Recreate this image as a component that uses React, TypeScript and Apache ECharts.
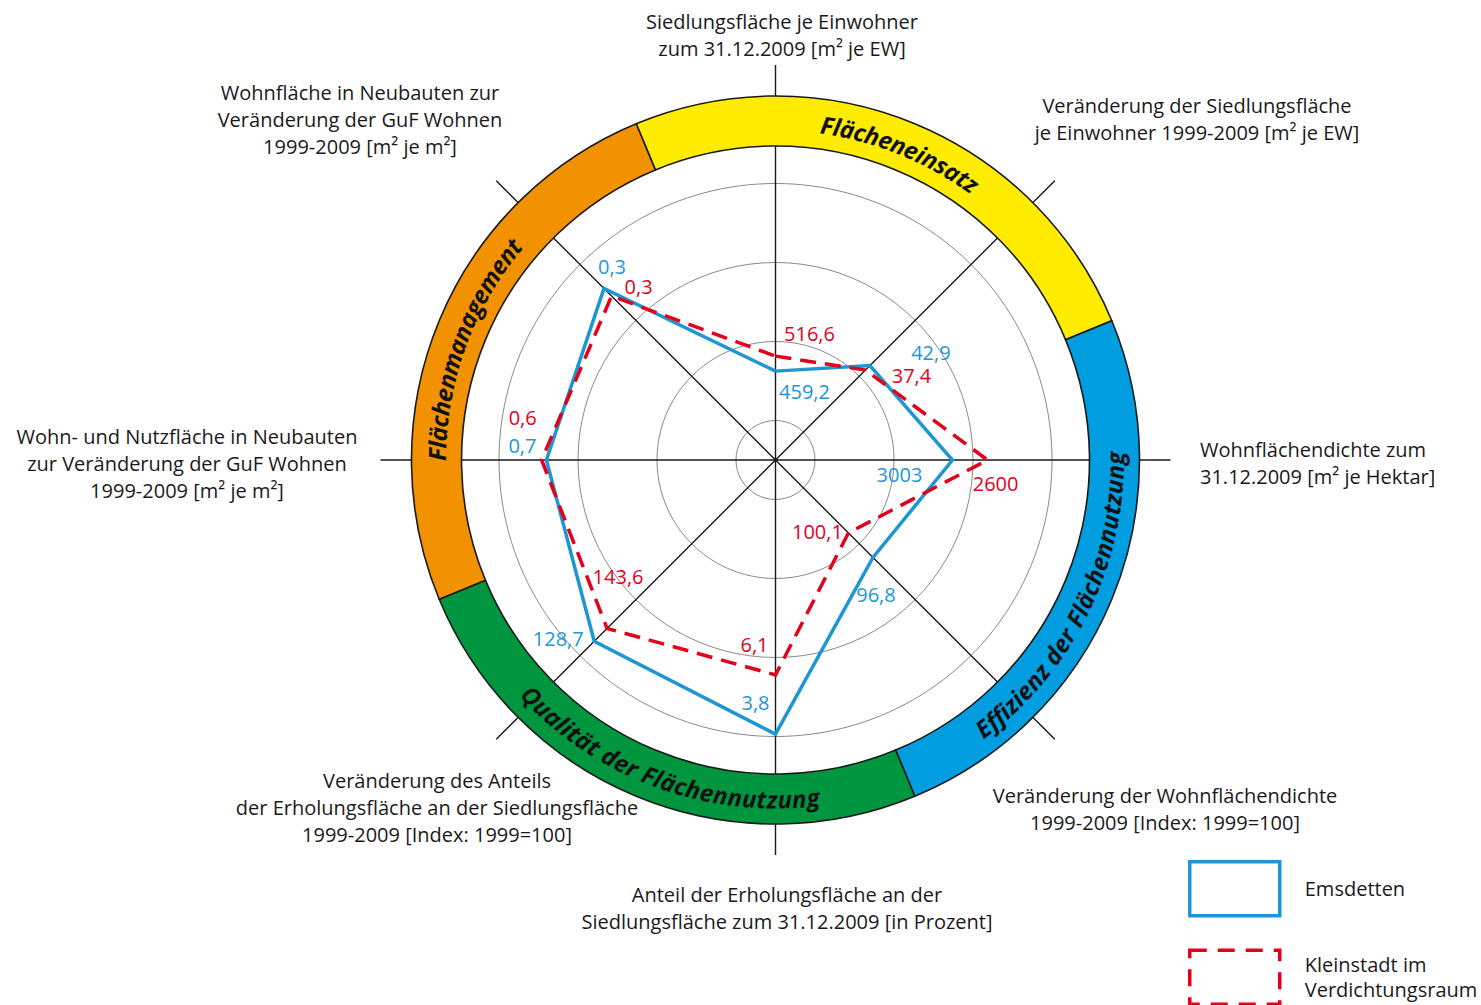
import React, { useEffect, useRef } from 'react';
import * as echarts from 'echarts';

// ---------- data ----------
const axisTitles = [
  'Siedlungsfläche je Einwohner\nzum 31.12.2009 [m² je EW]',
  'Veränderung der Siedlungsfläche\nje Einwohner 1999-2009 [m² je EW]',
  'Wohnflächendichte zum\n31.12.2009 [m² je Hektar]',
  'Veränderung der Wohnflächendichte\n1999-2009 [Index: 1999=100]',
  'Anteil der Erholungsfläche an der\nSiedlungsfläche zum 31.12.2009 [in Prozent]',
  'Veränderung des Anteils\nder Erholungsfläche an der Siedlungsfläche\n1999-2009 [Index: 1999=100]',
  'Wohn- und Nutzfläche in Neubauten\nzur Veränderung der GuF Wohnen\n1999-2009 [m² je m²]',
  'Wohnfläche in Neubauten zur\nVeränderung der GuF Wohnen\n1999-2009 [m² je m²]',
];
const seriesNames = ['Emsdetten', 'Kleinstadt im Verdichtungsraum'];
const emsValues = [459.2, 42.9, 3003, 96.8, 3.8, 128.7, 0.7, 0.3];
const kleinValues = [516.6, 37.4, 2600, 100.1, 6.1, 143.6, 0.6, 0.3];
// radial position of each vertex (grid rings at 1, 3, 5, 7)
const emsScores = [2.25, 3.38, 4.48, 3.49, 6.94, 6.49, 5.8, 6.14];
const kleinScores = [2.63, 3.22, 5.37, 2.61, 5.44, 6.03, 5.92, 5.87];
const fieldNames = ['Flächeneinsatz', 'Effizienz der Flächennutzung', 'Qualität der Flächennutzung', 'Flächenmanagement'];
const fieldShares = [1, 1, 1, 1];

// ---------- layout / style ----------
const CX = 775.5;
const CY = 460;
const R = 395;
const BLUE = '#1e96d4';
const RED = '#e3001b';
const TEXT = '#1a1a1a';
const FONT = '"Open Sans", "Noto Sans", sans-serif';
const fieldColors = ['#ffec00', '#009ee0', '#009640', '#f39200'];
const ringText = [
  { mid: 22, cw: true },
  { mid: 116, cw: false },
  { mid: 200, cw: false },
  { mid: 290, cw: true },
];
const titlePos: [number, number, string][] = [
  [782, 34.5, 'center'],
  [1197, 118.5, 'center'],
  [1200, 462.5, 'left'],
  [1165, 808.5, 'center'],
  [787, 907.5, 'center'],
  [437, 807.5, 'center'],
  [187, 463, 'center'],
  [360, 119, 'center'],
];
const emsOffsets = [[29, 20], [61, -13], [-53, 14], [3, 37], [-20, -32], [-36, -3], [-24, -15], [8, -22]];
const kleinOffsets = [[34, -23], [46, 5], [8, 23], [-31, -1], [-21, -30], [11, -52], [-19, -43], [27, -10]];

const fmt = (v: number) => String(v).replace('.', ',');

function buildData(scores: number[], values: number[], offsets: number[][]) {
  const pts: any[] = scores.map((s, i) => ({
    value: [s, i * (360 / scores.length)],
    label: { offset: offsets[i], formatter: fmt(values[i]) },
  }));
  pts.push({ value: [scores[0], 360], label: { show: false } });
  return pts;
}

function ringChars(): any[] {
  const canvas = document.createElement('canvas');
  const ctx = canvas.getContext('2d') as CanvasRenderingContext2D;
  const fontSize = 24;
  ctx.font = `italic bold ${fontSize}px "Open Sans"`;
  const r = 339;
  const out: any[] = [];
  fieldNames.forEach((text, k) => {
    const { mid, cw } = ringText[k];
    const total = ctx.measureText(text).width;
    const midRad = (mid * Math.PI) / 180;
    const start = cw ? midRad - total / r / 2 : midRad + total / r / 2;
    for (let i = 0; i < text.length; i++) {
      const before = ctx.measureText(text.slice(0, i)).width;
      const after = ctx.measureText(text.slice(0, i + 1)).width;
      const c = (before + after) / 2;
      const th = cw ? start + c / r : start - c / r;
      out.push({
        type: 'text',
        x: CX + r * Math.sin(th),
        y: CY - r * Math.cos(th),
        rotation: cw ? -th : Math.PI - th,
        z: 20,
        silent: true,
        style: {
          text: text[i],
          fill: '#111',
          fontSize,
          fontWeight: 'bold',
          fontStyle: 'italic',
          fontFamily: '"Open Sans"',
          align: 'center',
          verticalAlign: 'middle',
        },
      });
    }
  });
  return out;
}

export default function App() {
  const ref = useRef<HTMLDivElement>(null);
  useEffect(() => {
    if (!ref.current) return;
    const chart = echarts.init(ref.current, undefined, { renderer: 'svg' });
    const gridColors = ['rgba(0,0,0,0)', '#8a8a8a', 'rgba(0,0,0,0)', '#8a8a8a', 'rgba(0,0,0,0)', '#8a8a8a', 'rgba(0,0,0,0)', '#8a8a8a', 'rgba(0,0,0,0)', 'rgba(0,0,0,0)', 'rgba(0,0,0,0)'];
    const titles = axisTitles.map((t, i) => ({
      type: 'text',
      x: titlePos[i][0],
      y: titlePos[i][1],
      silent: true,
      style: {
        text: t,
        fill: TEXT,
        fontSize: 20,
        fontFamily: FONT,
        lineHeight: 27,
        align: titlePos[i][2],
        verticalAlign: 'middle',
      },
    }));
    const labelBase = { show: true, position: 'inside', fontSize: 20, lineHeight: 20, fontFamily: FONT };
    chart.setOption({
      animation: false,
      backgroundColor: '#ffffff',
      polar: { center: [CX, CY], radius: R },
      angleAxis: {
        type: 'value', min: 0, max: 360, interval: 45, startAngle: 90, clockwise: true,
        axisLine: { show: false }, axisTick: { show: false }, axisLabel: { show: false },
        splitLine: { show: true, lineStyle: { color: '#1a1a1a', width: 1.4 } },
      },
      radiusAxis: {
        type: 'value', min: 0, max: 10, interval: 1,
        axisLine: { show: false }, axisTick: { show: false }, axisLabel: { show: false },
        splitLine: { show: true, lineStyle: { color: gridColors, width: 1 } },
      },
      legend: {
        orient: 'vertical', left: 1188, top: 860, width: 290, height: 400, padding: 0,
        itemWidth: 90, itemHeight: 54, itemGap: 31,
        selectedMode: false,
        textStyle: { fontSize: 20, fontFamily: FONT, color: TEXT, lineHeight: 25, padding: [0, 0, 0, 20] },
        formatter: (n: string) => (n === seriesNames[1] ? 'Kleinstadt im\nVerdichtungsraum' : n),
        data: [
          { name: seriesNames[0], icon: 'rect', itemStyle: { color: 'rgba(0,0,0,0)', borderColor: BLUE, borderWidth: 3.5 } },
          { name: seriesNames[1], icon: 'rect', itemStyle: { color: 'rgba(0,0,0,0)', borderColor: RED, borderWidth: 3.5, borderType: [17, 11] } },
        ],
      },
      graphic: [...titles, ...ringChars()],
      series: [
        {
          type: 'pie', silent: true, z: 3,
          center: [CX, CY], radius: [314, 364], startAngle: 112.5, clockwise: true,
          label: { show: false }, labelLine: { show: false },
          itemStyle: { borderColor: '#1a1a1a', borderWidth: 1.6 },
          data: fieldNames.map((n, i) => ({ name: n, value: fieldShares[i], itemStyle: { color: fieldColors[i] } })),
        },
        {
          type: 'line', name: seriesNames[0], coordinateSystem: 'polar', silent: true, z: 4,
          data: buildData(emsScores, emsValues, emsOffsets),
          symbol: 'circle', symbolSize: 1, showSymbol: true,
          lineStyle: { color: BLUE, width: 3.5, join: 'miter' },
          itemStyle: { color: BLUE },
          label: { ...labelBase, color: BLUE },
        },
        {
          type: 'line', name: seriesNames[1], coordinateSystem: 'polar', silent: true, z: 5,
          data: buildData(kleinScores, kleinValues, kleinOffsets),
          symbol: 'circle', symbolSize: 1, showSymbol: true,
          lineStyle: { color: RED, width: 3.5, type: [16, 9], join: 'miter' },
          itemStyle: { color: RED },
          label: { ...labelBase, color: RED },
        },
      ],
    });
    return () => chart.dispose();
  }, []);
  return <div ref={ref} style={{ position: 'absolute', left: 0, top: 0, width: 1481, height: 1005 }} />;
}
